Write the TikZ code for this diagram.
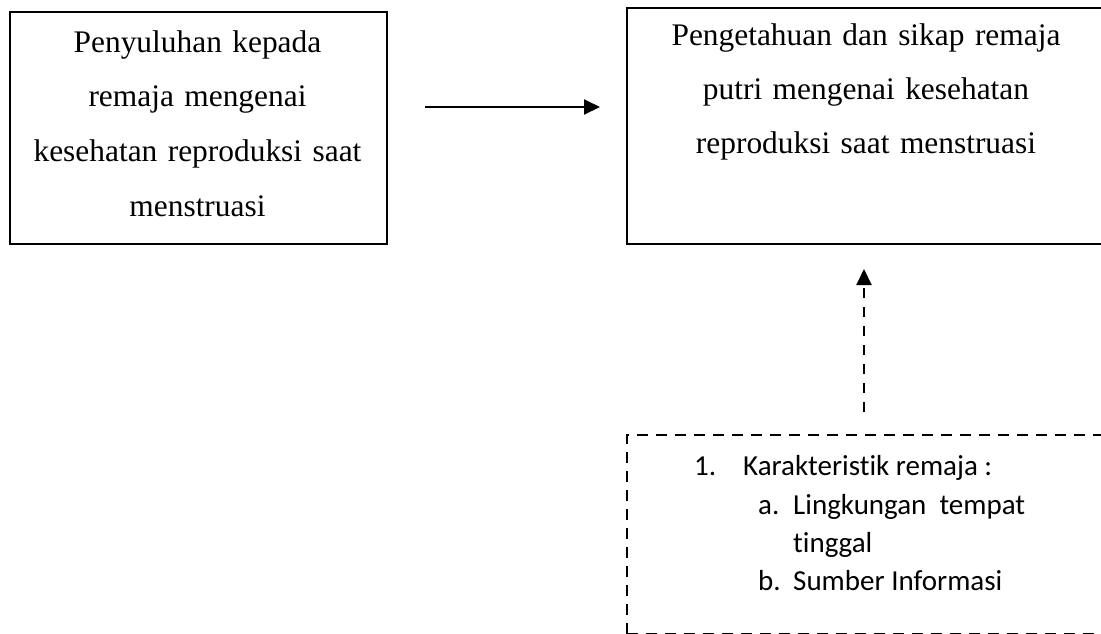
\documentclass[tikz,border=0pt]{standalone}
\usepackage{fontspec}
\setmainfont{Liberation Serif}
\newfontfamily\calibri[Ligatures=NoCommon]{Carlito}
\usetikzlibrary{arrows.meta}
\begin{document}
\begin{tikzpicture}[x=1pt,y=-1pt,
  solidbox/.style={draw, line width=2pt, rectangle, inner sep=0pt, anchor=north west},
  dashbox/.style={solidbox, dash pattern=on 11pt off 8pt},
  serif/.style={inner sep=0pt, text width=440pt, align=center, anchor=base},
  listtxt/.style={font=\calibri\fontsize{29}{38}\selectfont, inner sep=0pt, anchor=base west},
  arr/.style={line width=2pt, -{Triangle[length=16pt,width=15pt]}},
  dasharr/.style={arr, dash pattern=on 10pt off 9pt},
]
\useasboundingbox (0,0) rectangle (1101,633);
\clip (0,0) rectangle (1101,633);
\fill[white] (0,0) rectangle (1101,633);
\node[solidbox, minimum width=377pt, minimum height=232pt] (a) at (9,11) {};
\node[solidbox, minimum width=480pt, minimum height=236pt] (b) at (626,7) {};
\node[dashbox, minimum width=500pt, minimum height=199pt] (c) at (626,434) {};
\node[serif, font=\fontsize{31.4}{54.7}\selectfont] (ta) at (197.5,52) {Penyuluhan kepada\\remaja mengenai\\kesehatan reproduksi saat\\menstruasi};
\node[serif, font=\fontsize{31.4}{54}\selectfont] (tb) at (866,45) {Pengetahuan dan sikap remaja\\putri mengenai kesehatan\\reproduksi saat menstruasi};
\node[listtxt] (n1) at (694,475) {1.};
\node[listtxt] (k1) at (743,475) {Karakteristik remaja :};
\node[listtxt] (la) at (758,514) {a.};
\node[listtxt] (l1) at (793,514) {Lingkungan\ \ tempat};
\node[listtxt] (l2) at (793,552) {tinggal};
\node[listtxt] (lb) at (758,590) {b.};
\node[listtxt] (l3) at (793,590) {Sumber Informasi};
\coordinate (arrowy) at (0,107);
\coordinate (vx) at (864,0);
\draw[arr, shorten <=37pt, shorten >=26pt] (a.east |- arrowy) -- (b.west |- arrowy);
\draw[dasharr, shorten <=22pt, shorten >=24pt] (c.north -| vx) -- (b.south -| vx);
\end{tikzpicture}
\end{document}
